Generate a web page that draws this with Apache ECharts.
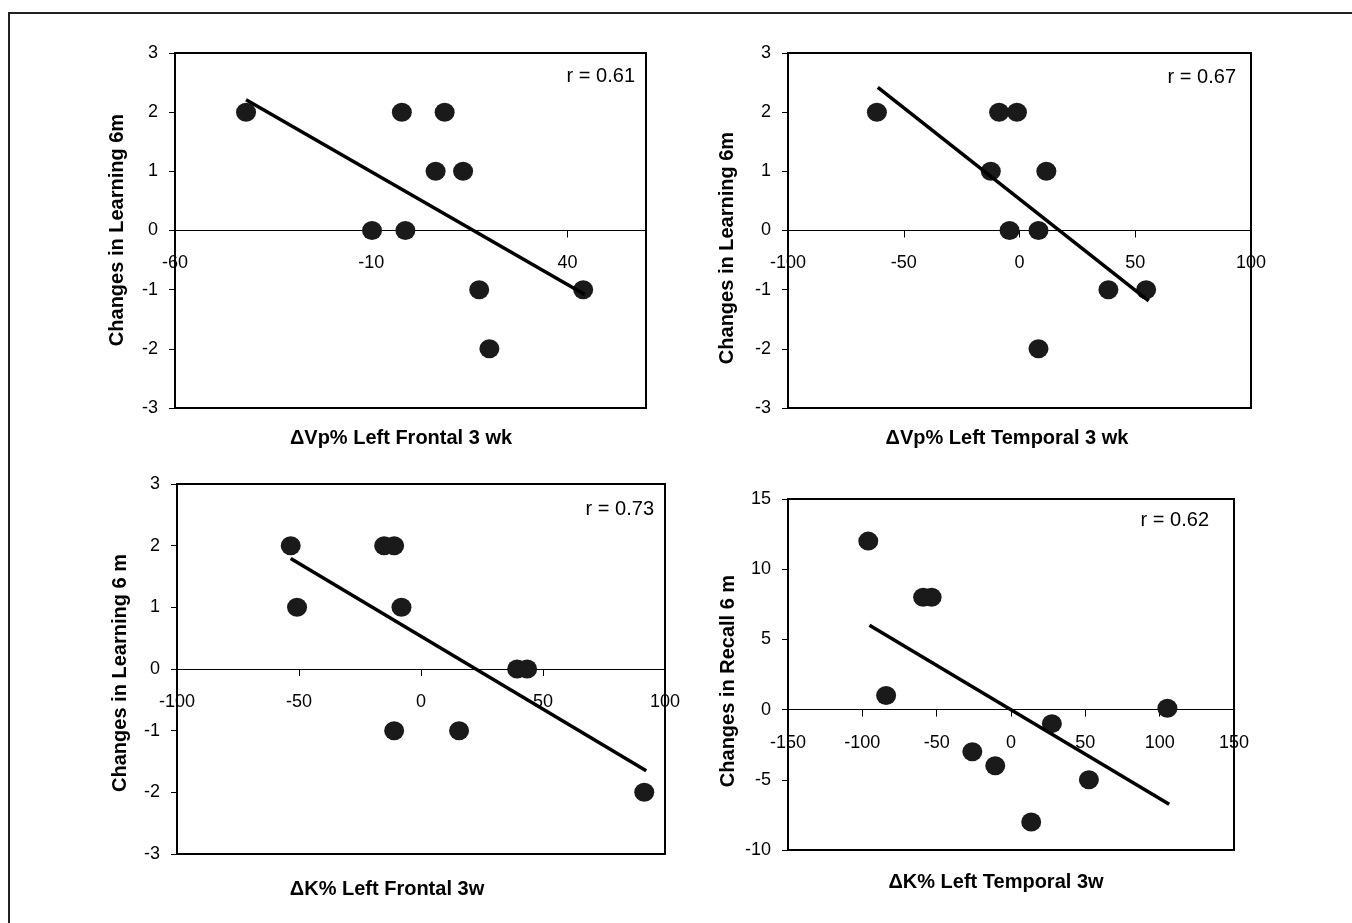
<!DOCTYPE html>
<html>
<head>
<meta charset="utf-8">
<script src="https://cdn.jsdelivr.net/npm/echarts@6.0.0/dist/echarts.min.js"></script>
<style>
  html, body { margin: 0; padding: 0; background: #fff; }
  #main { width: 1352px; height: 923px; }
</style>
</head>
<body>
<div id="main"></div>
<script>
// panel 1: dVp% left frontal vs learning
var p1X = [-41.9, -2.2, 8.7, 6.4, 13.4, -9.8, -1.3, 17.5, 20.1, 44.0];
var p1Y = [2, 2, 2, 1, 1, 0, 0, -1, -2, -1];
var p1TrendX = [-41.9, 44.4];
var p1TrendY = [2.21, -1.08];

// panel 2: dVp% left temporal vs learning
var p2X = [-61.6, -8.8, -1.1, -12.4, 11.6, -4.3, 8.2, 38.4, 54.7, 8.2];
var p2Y = [2, 2, 2, 1, 1, 0, 0, -1, -1, -2];
var p2TrendX = [-61.2, 55.8];
var p2TrendY = [2.42, -1.19];

// panel 3: dK% left frontal vs learning
var p3X = [-53.4, -15.1, -11.0, -50.8, -8.0, 39.4, 43.5, -11.0, 15.6, 91.5];
var p3Y = [2, 2, 2, 1, 1, 0, 0, -1, -1, -2];
var p3TrendX = [-53.4, 92.3];
var p3TrendY = [1.79, -1.65];

// panel 4: dK% left temporal vs recall
var p4X = [-96, -59.1, -53.4, -84, -26, -10.6, 27.5, 13.6, 52.4, 105.2];
var p4Y = [12, 8, 8, 1, -3, -4, -1, -8, -5, 0.1];
var p4TrendX = [-95.2, 106.4];
var p4TrendY = [6.0, -6.75];

var p1Ticks = [-60, -10, 40];
var p2Ticks = [-100, -50, 0, 50, 100];
var p3Ticks = [-100, -50, 0, 50, 100];
var p4Ticks = [-150, -100, -50, 0, 50, 100, 150];

var yTitles = ['Changes in Learning 6m', 'Changes in Learning 6m', 'Changes in Learning 6 m', 'Changes in Recall 6 m'];
var xTitles = ['\u0394Vp% Left Frontal 3 wk', '\u0394Vp% Left Temporal 3 wk', '\u0394K% Left Frontal 3w', '\u0394K% Left Temporal 3w'];
var rLabels = ['r = 0.61', 'r = 0.67', 'r = 0.73', 'r = 0.62'];

var FONT = '"Liberation Sans", Arial, sans-serif';

// plot boxes [left, top, width, height]
var boxes = [
    [175, 53, 471, 355],
    [788, 53, 463, 355],
    [177, 484, 488, 370],
    [788, 499, 446, 351]
];
var yRanges = [[-3, 3, 1], [-3, 3, 1], [-3, 3, 1], [-10, 15, 5]];

function pairs(xs, ys) {
    var out = [];
    for (var i = 0; i < xs.length; i++) {
        out.push([xs[i], ys[i]]);
    }
    return out;
}

// lift the x axis from the bottom edge up to y = 0
function zeroOffset(gi) {
    var b = boxes[gi], r = yRanges[gi];
    return -b[3] * (0 - r[0]) / (r[1] - r[0]);
}

function makeX(gi, min, max, interval, ticks) {
    return {
        type: 'value',
        gridIndex: gi,
        position: 'bottom',
        offset: zeroOffset(gi),
        min: min,
        max: max,
        interval: interval,
        axisLine: { onZero: false, lineStyle: { color: '#000', width: 1 } },
        axisTick: { show: true, length: 7, customValues: ticks, lineStyle: { color: '#000', width: 1 } },
        axisLabel: {
            customValues: ticks, margin: 24, fontSize: 18, color: '#000', fontFamily: FONT,
            showMinLabel: true, showMaxLabel: true
        },
        splitLine: { show: false }
    };
}

function makeY(gi) {
    var r = yRanges[gi];
    return {
        type: 'value',
        gridIndex: gi,
        min: r[0],
        max: r[1],
        interval: r[2],
        axisLine: { show: true, onZero: false, lineStyle: { color: '#000', width: 2 } },
        axisTick: { show: true, length: 6, lineStyle: { color: '#000', width: 1 } },
        axisLabel: { margin: 17, fontSize: 18, color: '#000', fontFamily: FONT },
        splitLine: { show: false }
    };
}

function scatter(gi, xs, ys) {
    return {
        type: 'scatter',
        xAxisIndex: gi,
        yAxisIndex: gi,
        symbol: 'circle',
        symbolSize: [20, 19],
        itemStyle: { color: '#1a1a1a', opacity: 1 },
        data: pairs(xs, ys),
        z: 3
    };
}

function trend(gi, xs, ys) {
    return {
        type: 'line',
        xAxisIndex: gi,
        yAxisIndex: gi,
        showSymbol: false,
        symbol: 'none',
        lineStyle: { color: '#000', width: 3.5 },
        data: pairs(xs, ys),
        z: 4
    };
}

function text(x, y, str, opts) {
    return {
        type: 'text',
        x: x,
        y: y,
        rotation: opts.rotation || 0,
        style: {
            text: str,
            fill: '#000',
            font: (opts.bold ? 'bold ' : '') + '20px ' + FONT,
            textAlign: opts.align || 'center',
            textVerticalAlign: 'middle'
        }
    };
}

function grid(gi) {
    var b = boxes[gi];
    return {
        left: b[0], top: b[1], width: b[2], height: b[3],
        show: true, borderColor: '#000', borderWidth: 2, outerBoundsMode: 'none'
    };
}

var chart = echarts.init(document.getElementById('main'));

var option = {
    backgroundColor: '#fff',
    animation: false,
    grid: [grid(0), grid(1), grid(2), grid(3)],
    xAxis: [
        makeX(0, -60, 60, 50, p1Ticks),
        makeX(1, -100, 100, 50, p2Ticks),
        makeX(2, -100, 100, 50, p3Ticks),
        makeX(3, -150, 150, 50, p4Ticks)
    ],
    yAxis: [makeY(0), makeY(1), makeY(2), makeY(3)],
    series: [
        scatter(0, p1X, p1Y), trend(0, p1TrendX, p1TrendY),
        scatter(1, p2X, p2Y), trend(1, p2TrendX, p2TrendY),
        scatter(2, p3X, p3Y), trend(2, p3TrendX, p3TrendY),
        scatter(3, p4X, p4Y), trend(3, p4TrendX, p4TrendY)
    ],
    graphic: [
        {
            type: 'rect',
            shape: { x: 9, y: 13, width: 1400, height: 1000 },
            style: { fill: 'none', stroke: '#222', lineWidth: 2 }
        },
        text(117, 230, yTitles[0], { bold: true, rotation: Math.PI / 2 }),
        text(727, 248, yTitles[1], { bold: true, rotation: Math.PI / 2 }),
        text(120, 673, yTitles[2], { bold: true, rotation: Math.PI / 2 }),
        text(728, 681, yTitles[3], { bold: true, rotation: Math.PI / 2 }),
        text(401, 438, xTitles[0], { bold: true }),
        text(1007, 438, xTitles[1], { bold: true }),
        text(387, 889, xTitles[2], { bold: true }),
        text(996, 882, xTitles[3], { bold: true }),
        text(635, 76, rLabels[0], { align: 'right' }),
        text(1236, 77, rLabels[1], { align: 'right' }),
        text(654, 509, rLabels[2], { align: 'right' }),
        text(1209, 520, rLabels[3], { align: 'right' })
    ]
};

chart.setOption(option);
</script>
</body>
</html>
